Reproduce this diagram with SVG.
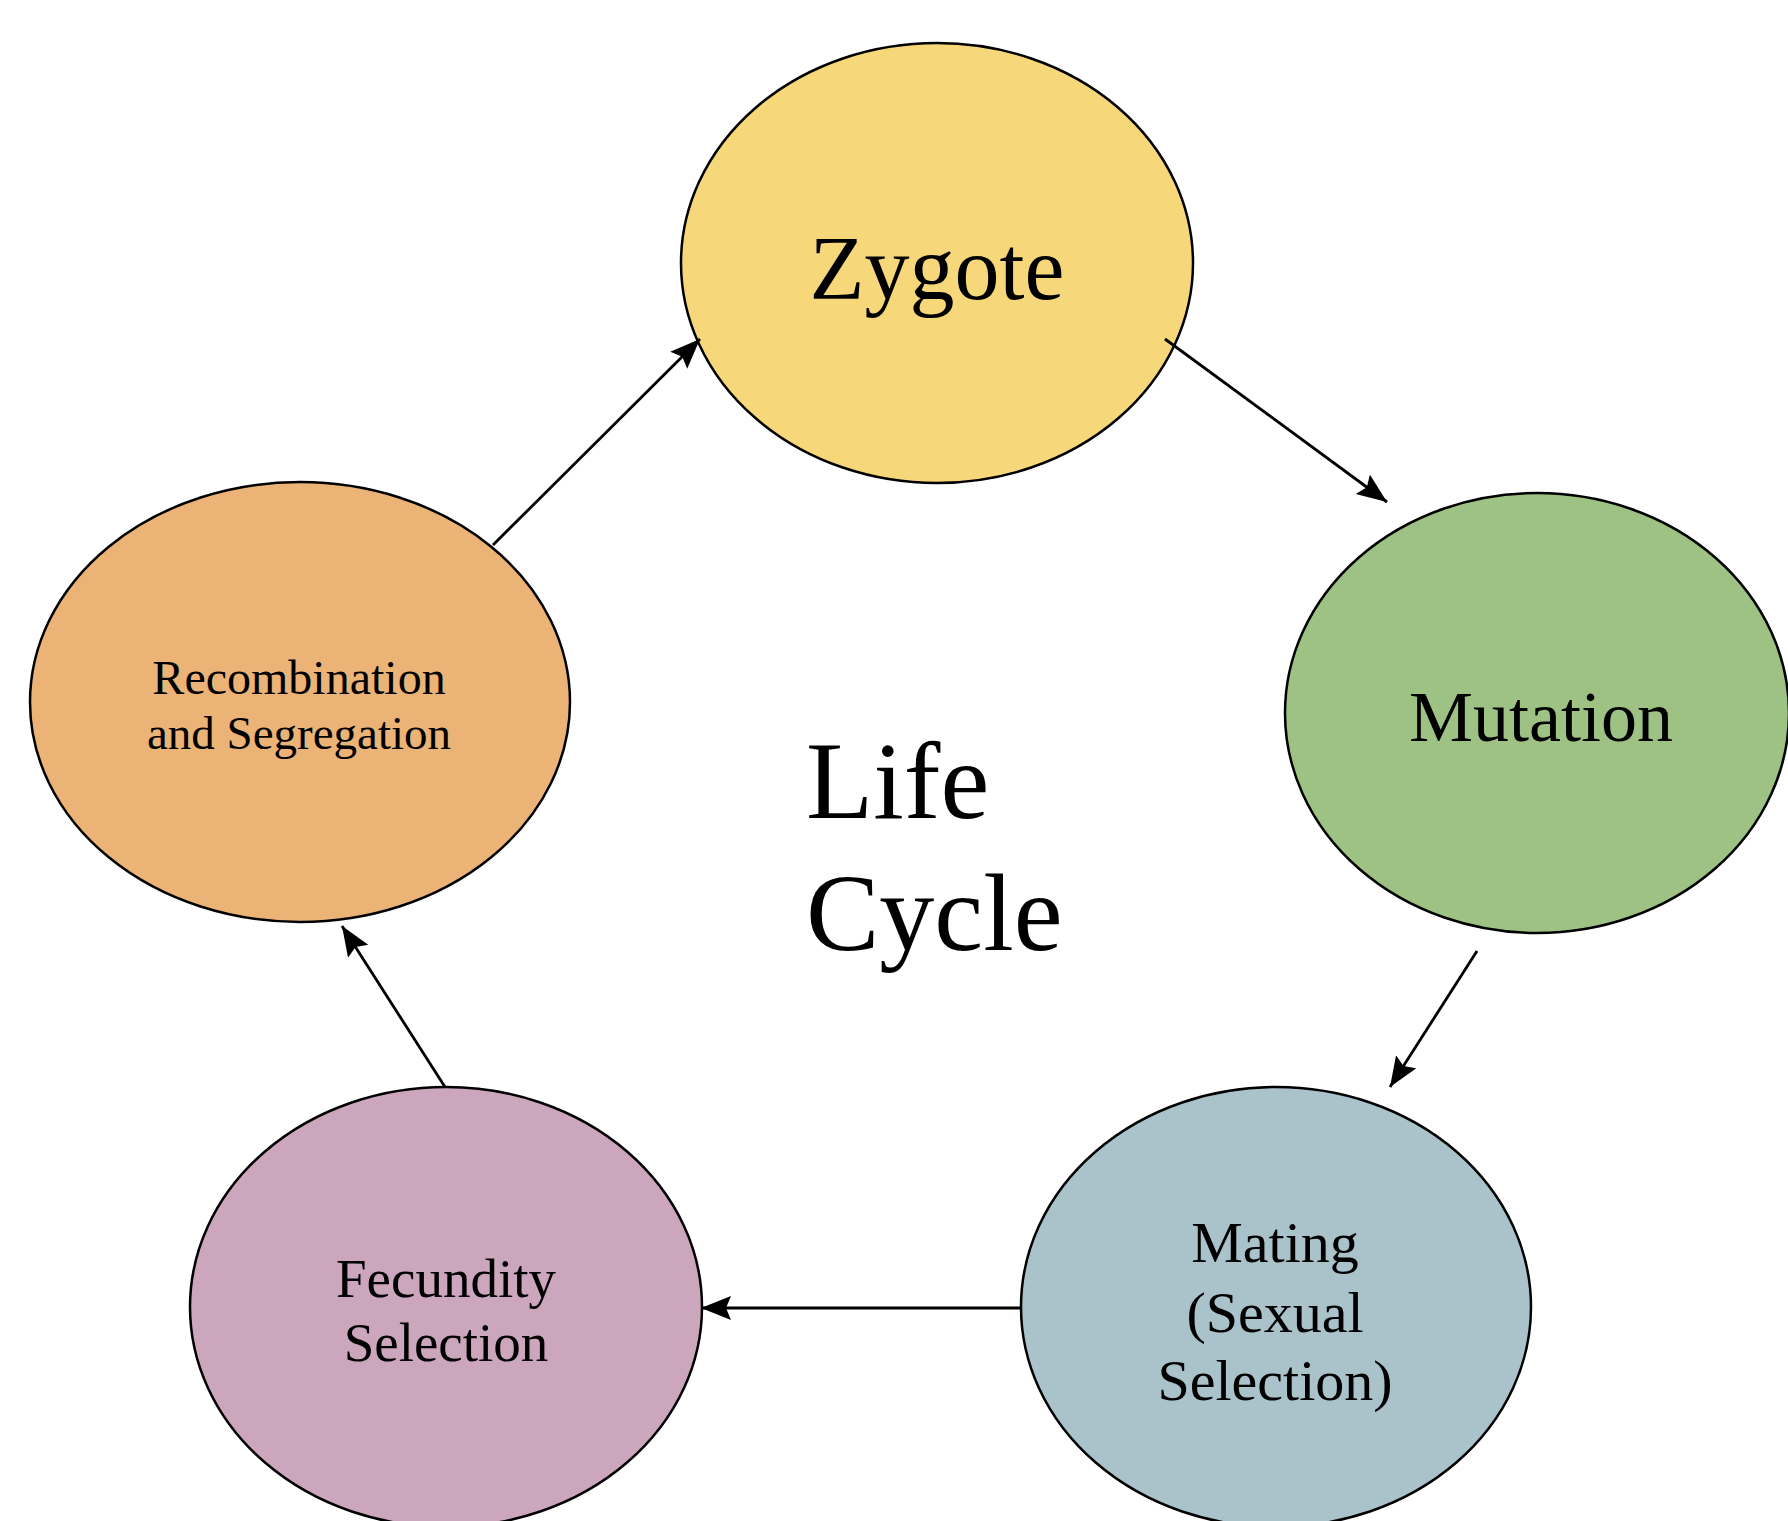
<svg xmlns="http://www.w3.org/2000/svg" width="1788" height="1521" viewBox="0 0 1788 1521">
<style>
.node{stroke:#000;stroke-width:2.5}
.lbl{font-family:"Liberation Serif","Times New Roman",serif;fill:#000;text-anchor:middle}
.edge{stroke:#000;stroke-width:2.8;fill:none;marker-end:url(#ah)}
</style>
<defs>
<marker id="ah" markerUnits="userSpaceOnUse" markerWidth="32" markerHeight="26" refX="30" refY="12" orient="auto">
<path d="M0,0 L30,12 L0,24 L5,12 z" fill="#000"/>
</marker>
</defs>
<rect width="1788" height="1521" fill="#fff"/>
<g id="zygote">
<ellipse class="node" cx="937" cy="263" rx="256" ry="220" fill="#F6D87A"/>
<text class="lbl" x="937" y="299" font-size="90">Zygote</text>
</g>
<g id="mutation">
<ellipse class="node" cx="1537" cy="713" rx="252" ry="220" fill="#9DC284"/>
<text class="lbl" x="1541" y="741" font-size="72">Mutation</text>
</g>
<g id="recombination">
<ellipse class="node" cx="300" cy="702" rx="270" ry="220" fill="#EBB476"/>
<text class="lbl" x="299" y="694" font-size="48">Recombination</text>
<text class="lbl" x="299" y="749" font-size="47">and Segregation</text>
</g>
<g id="fecundity">
<ellipse class="node" cx="446" cy="1307" rx="256" ry="220" fill="#CCA6BD"/>
<text class="lbl" x="446" y="1297" font-size="55">Fecundity</text>
<text class="lbl" x="446" y="1361" font-size="55">Selection</text>
</g>
<g id="mating">
<ellipse class="node" cx="1276" cy="1307" rx="255" ry="220" fill="#AAC2C9"/>
<text class="lbl" x="1275" y="1262" font-size="58">Mating</text>
<text class="lbl" x="1275" y="1332" font-size="58">(Sexual</text>
<text class="lbl" x="1275" y="1400" font-size="58">Selection)</text>
</g>
<g id="center-label">
<text font-family="'Liberation Serif','Times New Roman',serif" font-size="110" x="806" y="818">Life</text>
<text font-family="'Liberation Serif','Times New Roman',serif" font-size="110" x="806" y="950">Cycle</text>
</g>
<g id="connectors">
<line class="edge" x1="493" y1="545" x2="700" y2="339"/>
<line class="edge" x1="1165" y1="339" x2="1387" y2="502"/>
<line class="edge" x1="1477" y1="951" x2="1390" y2="1087"/>
<line class="edge" x1="1021" y1="1308" x2="701" y2="1308"/>
<line class="edge" x1="445" y1="1087" x2="342" y2="926"/>
</g>
</svg>
